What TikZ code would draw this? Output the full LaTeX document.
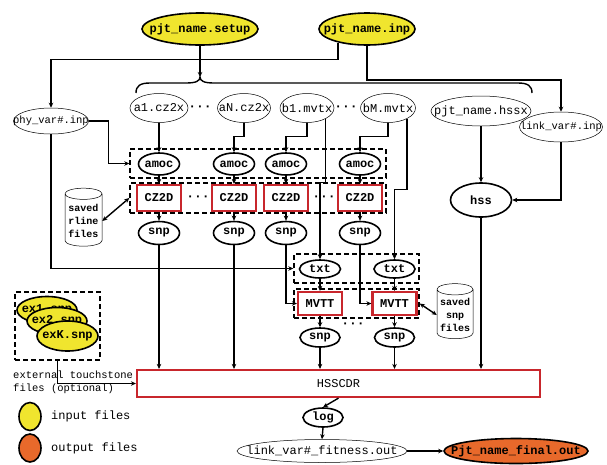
\documentclass[tikz,border=0pt]{standalone}
\usepackage{fontspec}
\newfontfamily\mono{Liberation Mono}
\usetikzlibrary{shapes.geometric,arrows.meta,calc}
\definecolor{inyellow}{HTML}{F0E52E}
\definecolor{outorange}{HTML}{E8692B}
\definecolor{boxred}{HTML}{C8262C}
\newcommand\zw[1]{\makebox[0pt]{#1}}
\begin{document}
\begin{tikzpicture}[x=1pt,y=-1pt,
  font=\mono\fontsize{12}{14}\selectfont,
  thinell/.style={ellipse, draw, line width=0.5pt, inner sep=0pt},
  thickell/.style={ellipse, draw, line width=1.6pt, inner sep=0pt, font=\mono\bfseries\fontsize{12}{14}\selectfont},
  infile/.style={thickell, fill=inyellow},
  redbox/.style={rectangle, draw=boxred, line width=2.2pt, fill=white, inner sep=0pt, font=\mono\bfseries\fontsize{12}{14}\selectfont},
  dbox/.style={rectangle, draw, line width=1.4pt, dash pattern=on 5pt off 3pt, inner sep=0pt},
  small/.style={font=\mono\fontsize{10.5}{12}\selectfont},
  cyl/.style={cylinder, shape border rotate=90, draw, line width=0.5pt, aspect=0.35, align=center, inner sep=1pt, font=\mono\bfseries\fontsize{10}{13}\selectfont},
  dotsn/.style={inner sep=0pt, font=\mono\bfseries\fontsize{13}{14}\selectfont},
  ln/.style={line width=1.4pt},
  arr/.style={line width=1.4pt, -{Stealth[length=5pt,width=4.5pt]}},
  darr/.style={line width=1.4pt, {Stealth[length=5pt,width=4.5pt]}-{Stealth[length=5pt,width=4.5pt]}}
]
\useasboundingbox (0,0) rectangle (607,464);

% input files
\node[infile, minimum width=116pt, minimum height=32pt] (setup) at (200,29) {\zw{pjt\_name.setup}};
\node[infile, minimum width=96pt, minimum height=32pt] (inp) at (367,29) {\zw{pjt\_name.inp}};

% second row
\node[thinell, small, minimum width=75pt, minimum height=26pt] (phy) at (51,121) {\zw{phy\_var\#.inp}};
\node[thinell, minimum width=58pt, minimum height=29pt] (a1) at (159,108) {\zw{a1.cz2x}};
\node[thinell, minimum width=53pt, minimum height=29pt] (aN) at (244,108) {\zw{aN.cz2x}};
\node[thinell, minimum width=54pt, minimum height=29pt] (b1) at (307,108) {\zw{b1.mvtx}};
\node[thinell, minimum width=55pt, minimum height=29pt] (bM) at (388,108) {\zw{bM.mvtx}};
\node[thinell, minimum width=100pt, minimum height=30pt] (hssx) at (481,111) {\zw{pjt\_name.hssx}};
\node[thinell, small, minimum width=83pt, minimum height=30pt] (link) at (561,127) {\zw{link\_var\#.inp}};
\node[dotsn] (d1) at (200,108) {···};
\node[dotsn] (d2) at (346,108) {···};

% brace
\coordinate (bracetip) at (200,77);
\draw[ln] (136,93) .. controls (136,86) and (140,83) .. (150,83) -- (186,83)
  .. controls (196,83) and (200,81) .. (bracetip)
  .. controls (200,81) and (204,83) .. (214,83) -- (518,83)
  .. controls (528,83) and (532,86) .. (532,93);

% dashed groups
\node[dbox, minimum width=256pt, minimum height=29pt] (box1) at (258,163.5) {};
\node[dbox, minimum width=256pt, minimum height=30pt] (box2) at (258,198) {};
\node[dbox, minimum width=125pt, minimum height=29pt] (box3) at (356.5,268.5) {};
\node[dbox, minimum width=125pt, minimum height=29pt] (box4) at (356.5,303.5) {};

% amoc
\foreach \i/\x in {1/159,2/234,3/286,4/360}{
  \node[thickell, minimum width=41pt, minimum height=22pt] (amoc\i) at (\x,164) {\zw{amoc}};
  \node[redbox, minimum width=44pt, minimum height=26pt] (cz\i) at (\x,198) {CZ2D};
  \node[thickell, minimum width=41pt, minimum height=23pt] (snp\i) at (\x,233) {\zw{snp}};
  \draw[arr] (amoc\i.south) -- (cz\i.north);
  \draw[arr] (cz\i.south) -- (snp\i.north);
}
\node[dotsn] (d3) at (198,198) {···};
\node[dotsn] (d4) at (324,198) {···};

% hss
\node[thickell, minimum width=61pt, minimum height=34pt] (hss) at (481,200) {\zw{hss}};

% cylinders
\node[cyl, minimum width=37pt, minimum height=58pt] (rline) at (83.5,221) {saved\\rline\\files};
\node[cyl, minimum width=36pt, minimum height=55pt] (snpcyl) at (455,315) {saved\\snp\\files};

% txt / MVTT
\foreach \i/\x in {1/320,2/394.5}{
  \node[thickell, minimum width=41pt, minimum height=18pt] (txt\i) at (\x,269) {\zw{txt}};
  \node[redbox, minimum width=44pt, minimum height=23pt] (mvtt\i) at (\x,303.5) {MVTT};
  \node[thickell, minimum width=40pt, minimum height=19pt] (snpb\i) at (\x,337.5) {\zw{snp}};
  \draw[arr] (txt\i.south) -- (mvtt\i.north);
  \draw[arr] (mvtt\i.south) -- (snpb\i.north);
}
\node[dotsn] (d5) at (353,325) {···};

% HSSCDR
\node[rectangle, draw=boxred, line width=2.2pt, minimum width=403pt, minimum height=27pt, inner sep=0pt] (hsscdr) at (338.5,383.5) {HSSCDR};

% external files
\node[dbox, minimum width=85pt, minimum height=68pt] (extbox) at (57.5,326) {};
\node[infile, minimum width=60pt, minimum height=27pt] (ex1) at (47,310) {\zw{ex1.snp}};
\node[infile, minimum width=60pt, minimum height=27pt] (ex2) at (57,321) {\zw{ex2.snp}};
\node[infile, minimum width=61pt, minimum height=30pt] (exK) at (67.5,336) {\zw{exK.snp}};
\node[small, anchor=west, align=left, inner sep=0pt] (exttext) at (13,382.5) {external touchstone\\[1.5pt]files (optional)};

% legend
\node[thickell, fill=inyellow, minimum width=22pt, minimum height=28pt] (legin) at (30,416.5) {};
\node[anchor=west, inner sep=0pt] (legintext) at (51,416) {input files};
\node[thickell, fill=outorange, minimum width=22pt, minimum height=28pt] (legout) at (30,448) {};
\node[anchor=west, inner sep=0pt] (legouttext) at (51,448) {output files};

% outputs
\node[thickell, minimum width=40pt, minimum height=19pt] (log) at (323,417.5) {\zw{log}};
\node[thinell, minimum width=170pt, minimum height=23pt] (fit) at (322,451) {\zw{link\_var\#\_fitness.out}};
\node[thickell, fill=outorange, minimum width=144pt, minimum height=25pt] (final) at (516,451) {\zw{Pjt\_name\_final.out}};

% connectors from top
\draw[arr] (setup.south) -- (bracetip);
\draw[arr] (inp.205) -- ++(0,17) -| (phy.north);
\draw[arr] (inp.south) -- ++(0,34) -| (link.north);
\draw[arr] (phy.east) -- ++(20,0) |- (box1.west);
\draw[arr] (phy.south) |- (box3.west);
\draw[arr] (a1.south) -- (amoc1.north);
\draw[arr] (aN.south) -- ++(0,14) -| (amoc2.north);
\draw[arr] (b1.south) -- ++(0,14) -| (amoc3.north);
\draw[arr] (bM.south) -- ++(0,14) -| (amoc4.north);
\draw[arr] (b1.-30) -- (b1.-30 |- box2.north) -| (txt1.north);
\draw[arr] (bM.-30) -- ($(bM.-30 |- box2.north)+(0,7)$) -| (txt2.north);
\draw[arr] (hssx.south) -- (hss.north);
\draw[arr] (link.south) |- (hss.east);
\draw[darr] (rline.east) -- (box2.west);
\draw[darr] (box4.east) -- (snpcyl.west);

% into HSSCDR
\draw[arr] (snp1.south) -- (snp1.south |- hsscdr.north);
\draw[arr] (snp2.south) -- (snp2.south |- hsscdr.north);
\draw[arr] (snp3.south) |- (mvtt1.west);
\draw[arr] (snp4.south) |- (mvtt2.west);
\draw[arr] (snpb1.south) -- (snpb1.south |- hsscdr.north);
\draw[arr] (snpb2.south) -- (snpb2.south |- hsscdr.north);
\draw[arr] (hss.south) -- (hss.south |- hsscdr.north);
\draw[arr] (extbox.south) |- (hsscdr.west);

% outputs
\draw[arr] (hsscdr.south) -- (log.north);
\draw[arr] (log.south) -- (fit.north);
\draw[arr] (fit.east) -- (final.west);
\end{tikzpicture}
\end{document}
